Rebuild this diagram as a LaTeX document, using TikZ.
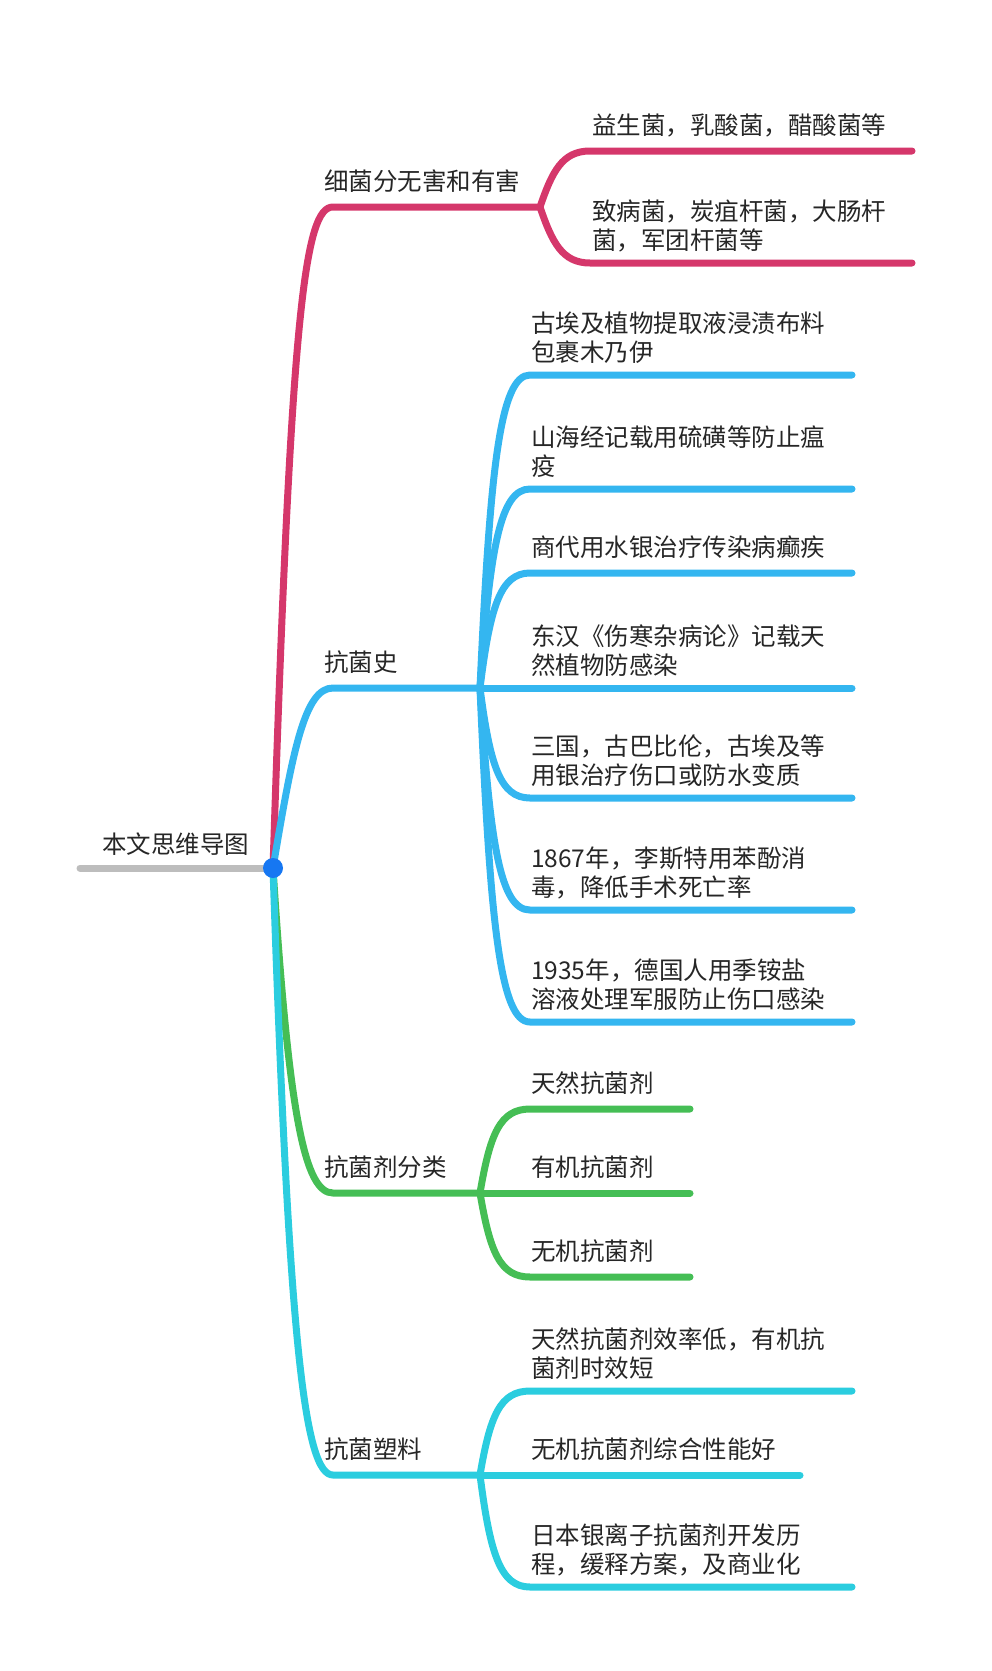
\documentclass[tikz,border=0pt]{standalone}
\usepackage{fontspec}
\newfontfamily\cjk{Noto Sans CJK SC}
\definecolor{pinkln}{HTML}{D5376B}
\definecolor{blueln}{HTML}{34B6F0}
\definecolor{greenln}{HTML}{45BE55}
\definecolor{cyanln}{HTML}{2BCDDF}
\definecolor{grayln}{HTML}{BDBDBD}
\definecolor{dotblue}{HTML}{1677F2}
\definecolor{txtgray}{HTML}{262626}
\tikzset{
  topic/.style={anchor=south west, inner sep=0pt, text depth=0pt, align=left,
    text=txtgray, font=\cjk\fontsize{24.5}{29}\selectfont},
  branch/.style={line width=7pt, line cap=round}
}

\begin{document}
\begin{tikzpicture}[x=1pt,y=-1pt]
\useasboundingbox (0,0) rectangle (992,1671);
\draw (102,854) node[topic] (map) {本文思维导图};
\draw (324,191) node[topic] (bact) {细菌分无害和有害};
\draw (324,672) node[topic] (hist) {抗菌史};
\draw (324,1177) node[topic] (kind) {抗菌剂分类};
\draw (324,1459) node[topic] (plas) {抗菌塑料};
\draw (592,135) node[topic] (p1) {益生菌，乳酸菌，醋酸菌等};
\draw (592,250) node[topic] (p2) {致病菌，炭疽杆菌，大肠杆\\菌，军团杆菌等};
\draw (531,362) node[topic] (h1) {古埃及植物提取液浸渍布料\\包裹木乃伊};
\draw (531,476) node[topic] (h2) {山海经记载用硫磺等防止瘟\\疫};
\draw (531,557) node[topic] (h3) {商代用水银治疗传染病癫疾};
\draw (531,675) node[topic] (h4) {东汉《伤寒杂病论》记载天\\然植物防感染};
\draw (531,785) node[topic] (h5) {三国，古巴比伦，古埃及等\\用银治疗伤口或防水变质};
\draw (531,897) node[topic] (h6) {1867年，李斯特用苯酚消\\毒，降低手术死亡率};
\draw (531,1009) node[topic] (h7) {1935年，德国人用季铵盐\\溶液处理军服防止伤口感染};
\draw (531,1093) node[topic] (g1) {天然抗菌剂};
\draw (531,1177) node[topic] (g2) {有机抗菌剂};
\draw (531,1261) node[topic] (g3) {无机抗菌剂};
\draw (531,1378) node[topic] (s1) {天然抗菌剂效率低，有机抗\\菌剂时效短};
\draw (531,1459) node[topic] (s2) {无机抗菌剂综合性能好};
\draw (531,1574) node[topic] (s3) {日本银离子抗菌剂开发历\\程，缓释方案，及商业化};

\coordinate (root) at (273,868);
\coordinate (left) at (80,868);
\coordinate (f1) at (540,207);
\coordinate (f2) at (480,688);
\coordinate (f3) at (480,1193);
\coordinate (f4) at (480,1475);
\coordinate (p1e) at (912,151);
\coordinate (p2e) at (912,263);
\coordinate (h1e) at (852,375);
\coordinate (h2e) at (852,489);
\coordinate (h3e) at (852,573);
\coordinate (h4e) at (852,688);
\coordinate (h5e) at (852,798);
\coordinate (h6e) at (852,910);
\coordinate (h7e) at (852,1022);
\coordinate (g1e) at (690,1109);
\coordinate (g2e) at (690,1193);
\coordinate (g3e) at (690,1277);
\coordinate (s1e) at (852,1391);
\coordinate (s2e) at (800,1475);
\coordinate (s3e) at (852,1587);

\draw[branch,pinkln] (root) .. controls +(18,-560) and +(-28,0) .. (333,207) -- (f1);
\draw[branch,pinkln] (f1) .. controls +(12,-35) and +(-28,0) .. (590,151) -- (p1e);
\draw[branch,pinkln] (f1) .. controls +(12,35) and +(-28,0) .. (590,263) -- (p2e);

\draw[branch,blueln] (root) .. controls +(20,-120) and +(-28,0) .. (333,688) -- (f2);
\draw[branch,blueln] (f2) .. controls +(10,-219) and +(-30,0) .. (530,375) -- (h1e);
\draw[branch,blueln] (f2) .. controls +(10,-139) and +(-30,0) .. (530,489) -- (h2e);
\draw[branch,blueln] (f2) .. controls +(10,-80) and +(-30,0) .. (530,573) -- (h3e);
\draw[branch,blueln] (f2) -- (h4e);
\draw[branch,blueln] (f2) .. controls +(10,77) and +(-30,0) .. (530,798) -- (h5e);
\draw[branch,blueln] (f2) .. controls +(10,155) and +(-30,0) .. (530,910) -- (h6e);
\draw[branch,blueln] (f2) .. controls +(10,234) and +(-30,0) .. (530,1022) -- (h7e);

\draw[branch,greenln] (root) .. controls +(16,250) and +(-28,0) .. (333,1193) -- (f3);
\draw[branch,greenln] (f3) .. controls +(10,-59) and +(-30,0) .. (530,1109) -- (g1e);
\draw[branch,greenln] (f3) -- (g2e);
\draw[branch,greenln] (f3) .. controls +(10,59) and +(-30,0) .. (530,1277) -- (g3e);

\draw[branch,cyanln] (root) .. controls +(16,480) and +(-28,0) .. (333,1475) -- (f4);
\draw[branch,cyanln] (f4) .. controls +(10,-59) and +(-30,0) .. (530,1391) -- (s1e);
\draw[branch,cyanln] (f4) -- (s2e);
\draw[branch,cyanln] (f4) .. controls +(10,78) and +(-30,0) .. (530,1587) -- (s3e);

\draw[branch,grayln] (left) -- (root);
\fill[dotblue] (root) circle (10);
\end{tikzpicture}
\end{document}
